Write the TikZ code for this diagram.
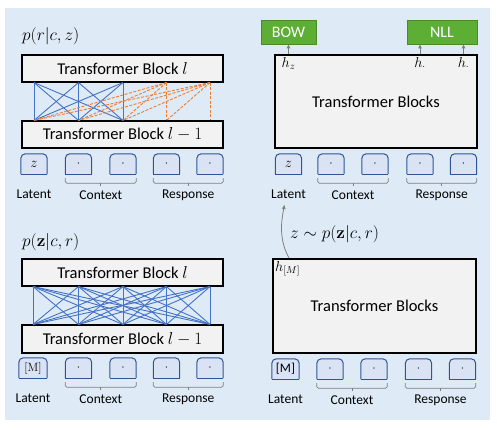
\documentclass[tikz,border=0pt]{standalone}
\usepackage[no-math]{fontspec}
\setmainfont{Carlito}
\usetikzlibrary{arrows.meta,calc,backgrounds}
\definecolor{bgc}{HTML}{DEEBF7}
\definecolor{blkc}{HTML}{F2F2F2}
\definecolor{tokf}{HTML}{DAE3F3}
\definecolor{tokd}{HTML}{2F5597}
\definecolor{lnb}{HTML}{4472C4}
\definecolor{lno}{HTML}{ED7D31}
\definecolor{grn}{HTML}{5CAE34}
\definecolor{grnd}{HTML}{4A8A2A}
\definecolor{gryc}{HTML}{7F7F7F}
\begin{document}
\begin{tikzpicture}[x=1pt,y=-1pt,
  blockbox/.style={draw=black, line width=1.1pt, fill=blkc, inner sep=0pt,
    font=\fontsize{16.5}{18}\selectfont},
  greenbox/.style={draw=grnd, line width=0.8pt, fill=grn, inner sep=0pt, text=white,
    font=\fontsize{16}{18}\selectfont, minimum height=24pt},
  tokbox/.style={inner sep=0pt, minimum width=26pt, minimum height=20pt,
    font=\fontsize{13}{15}\selectfont},
  ztok/.style={font=\fontsize{15.5}{17}\selectfont},
  tokline/.style={draw=tokd, line width=1pt, fill=tokf, rounded corners=4.5pt},
  lbl/.style={inner sep=0pt, font=\fontsize{13.5}{15}\selectfont},
  mathlbl/.style={inner sep=0pt, font=\fontsize{17.5}{19}\selectfont},
  hlbl/.style={inner sep=1.5pt, font=\fontsize{14.5}{16}\selectfont},
  brk/.style={draw=gryc, line width=0.8pt, rounded corners=1.5pt},
  bl/.style={draw=lnb, line width=0.9pt},
  ol/.style={draw=lno, line width=0.9pt, dash pattern=on 3pt off 1.5pt},
  garrow/.style={draw=gryc, line width=0.9pt, -{Triangle[length=4pt,width=3.5pt]}}
]
\useasboundingbox (0,0) rectangle (497,429);

% ---------------- top-left panel ----------------
\node[mathlbl, anchor=west] (ptl) at (22,36) {$p(r|c,z)$};
\node[blockbox, minimum width=201pt, minimum height=27pt] (tlA) at (122.5,68.5) {Transformer Block $l$};
\node[blockbox, minimum width=201pt, minimum height=27pt] (tlB) at (122.5,134.5) {Transformer Block $l-1$};
\node[tokbox, ztok] (A0) at (34,164) {$z$};
\node[tokbox] (A1) at (78.5,164) {$\cdot$};
\node[tokbox] (A2) at (123,164) {$\cdot$};
\node[tokbox] (A3) at (166.5,164) {$\cdot$};
\node[tokbox] (A4) at (210,164) {$\cdot$};

% ---------------- bottom-left panel ----------------
\node[mathlbl, anchor=west] (pbl) at (22,242) {$p(\mathbf{z}|c,r)$};
\node[blockbox, minimum width=201pt, minimum height=27pt] (blA) at (122.5,272.5) {Transformer Block $l$};
\node[blockbox, minimum width=201pt, minimum height=28pt] (blB) at (122.5,339) {Transformer Block $l-1$};
\node[tokbox, minimum width=28pt] (B0) at (33,368) {$[\mathrm{M}]$};
\node[tokbox] (B1) at (78.5,368) {$\cdot$};
\node[tokbox] (B2) at (123,368) {$\cdot$};
\node[tokbox] (B3) at (166.5,368) {$\cdot$};
\node[tokbox] (B4) at (210,368) {$\cdot$};

% ---------------- top-right panel ----------------
\node[greenbox, minimum width=55pt] (bow) at (288.5,32) {BOW};
\node[greenbox, minimum width=70pt] (nll) at (442,32) {NLL};
\node[blockbox, minimum width=202pt, minimum height=93pt] (trT) at (376,101.5) {Transformer Blocks};
\node[tokbox, ztok] (C0) at (288.5,164) {$z$};
\node[tokbox] (C1) at (331,164) {$\cdot$};
\node[tokbox] (C2) at (375,164) {$\cdot$};
\node[tokbox] (C3) at (420,164) {$\cdot$};
\node[tokbox] (C4) at (463.5,164) {$\cdot$};
\node[hlbl, anchor=north] (hz) at ([yshift=-1pt]C0 |- trT.north) {$h_z$};
\node[hlbl, anchor=north] (h3) at ([yshift=-1pt]C3 |- trT.north) {$h_{\cdot}$};
\node[hlbl, anchor=north] (h4) at ([yshift=-1pt]C4 |- trT.north) {$h_{\cdot}$};

% ---------------- bottom-right panel ----------------
\node[blockbox, minimum width=203pt, minimum height=94pt] (brT) at (374.5,306) {Transformer Blocks};
\node[tokbox, minimum width=27pt] (D0) at (285.5,369) {[M]};
\node[tokbox] (D1) at (330,369) {$\cdot$};
\node[tokbox] (D2) at (374,369) {$\cdot$};
\node[tokbox] (D3) at (418.5,369) {$\cdot$};
\node[tokbox] (D4) at (462.5,369) {$\cdot$};
\node[hlbl, anchor=north west] (hm) at ([xshift=1pt,yshift=-1pt]brT.north west) {$h_{[M]}$};
\node[mathlbl, anchor=west] (zs) at (290,234) {$z\sim p(\mathbf{z}|c,r)$};
\coordinate (za) at (289,258);
\coordinate (zb) at (284.5,205);

% ---------------- background and token shapes ----------------
\begin{scope}[on background layer]
\fill[bgc] (5,8) rectangle (490,420);
\foreach \t in {A0,A1,A2,A3,A4,B0,B1,B2,B3,B4,C0,C1,C2,C3,C4,D0,D1,D2,D3,D4}{
  \filldraw[tokline] (\t.south west) -- (\t.north west) -- (\t.north east) -- (\t.south east);
  \draw[draw=tokd, line width=1pt] (\t.south west) -- (\t.south east);
}
\end{scope}

% ---------------- labels and brackets ----------------
\foreach \p in {A,B,C,D}{
  \node[lbl] (\p lat) at ([yshift=-20pt]\p0.south) {Latent};
  \path ([yshift=-21pt]\p1.south) -- ([yshift=-21pt]\p2.south) node[midway, lbl] (\p ctx) {Context};
  \path ([yshift=-21pt]\p3.south) -- ([yshift=-21pt]\p4.south) node[midway, lbl] (\p rsp) {Response};
  \draw[brk] ([yshift=-4pt]\p1.south west) -- ([yshift=-9pt]\p1.south west) -- ([yshift=-9pt]\p2.south east) -- ([yshift=-4pt]\p2.south east);
  \draw[brk] ([yshift=-4pt]\p3.south west) -- ([yshift=-9pt]\p3.south west) -- ([yshift=-9pt]\p4.south east) -- ([yshift=-4pt]\p4.south east);
  \draw[draw=gryc, line width=0.8pt] ($([yshift=-9pt]\p1.south west)!0.5!([yshift=-9pt]\p2.south east)$) -- ++(0,3);
  \draw[draw=gryc, line width=0.8pt] ($([yshift=-9pt]\p3.south west)!0.5!([yshift=-9pt]\p4.south east)$) -- ++(0,3);
}

% ---------------- attention connections ----------------
\foreach \i in {0,1,2}{
  \foreach \j in {0,1,2}{
    \draw[bl] (A\i |- tlA.south) -- (A\j |- tlB.north);
  }
}
\foreach \j in {0,1,2,3}{
  \draw[ol] (A3 |- tlA.south) -- (A\j |- tlB.north);
}
\foreach \j in {0,1,2,3,4}{
  \draw[ol] (A4 |- tlA.south) -- (A\j |- tlB.north);
}
\foreach \i in {0,1,2,3,4}{
  \foreach \j in {0,1,2,3,4}{
    \draw[bl] (B\i |- blA.south) -- (B\j |- blB.north);
  }
}

% ---------------- arrows ----------------
\draw[garrow] (C0 |- trT.north) -- (C0 |- bow.south);
\draw[garrow] (C3 |- trT.north) -- (C3 |- nll.south);
\draw[garrow] (C4 |- trT.north) -- (C4 |- nll.south);
\draw[garrow, line width=0.8pt] (za) .. controls (279,240) and (281,222) .. (zb);
\end{tikzpicture}
\end{document}
